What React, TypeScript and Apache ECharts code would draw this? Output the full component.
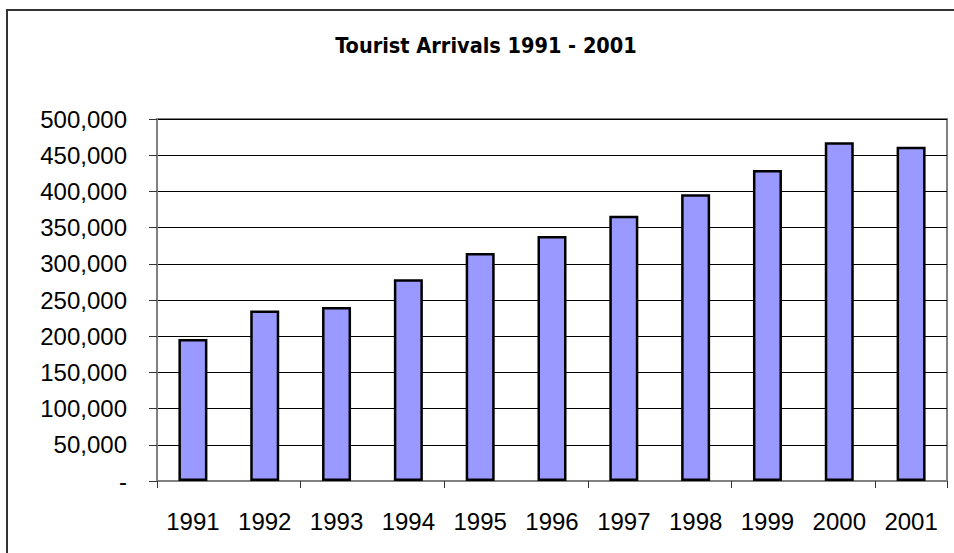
import React, { useEffect, useRef } from "react";
import * as echarts from "echarts";

const titleText = "Tourist Arrivals 1991 - 2001";
const years = ["1991", "1992", "1993", "1994", "1995", "1996", "1997", "1998", "1999", "2000", "2001"];
const arrivals = [196000, 235600, 240500, 278800, 314800, 338300, 366300, 395900, 429500, 467800, 461700];
const yMin = 0;
const yMax = 500000;
const yStep = 50000;

export default function App() {
  const ref = useRef<HTMLDivElement>(null);
  useEffect(() => {
    document.body.style.margin = "0";
    if (!ref.current) return;
    const chart = echarts.init(ref.current, undefined, { renderer: "svg" });
    chart.setOption({
      animation: false,
      backgroundColor: "#ffffff",
      title: {
        text: titleText,
        left: 481,
        top: 29,
        textAlign: "center",
        textStyle: {
          fontFamily: "'DejaVu Sans Condensed', sans-serif",
          fontSize: 21.5,
          fontWeight: "bold",
          color: "#000",
        },
      },
      graphic: [
        {
          type: "rect",
          shape: { x: 7, y: 10, width: 980, height: 580 },
          style: { fill: "none", stroke: "#333", lineWidth: 2 },
          silent: true,
        },
      ],
      grid: {
        left: 157,
        right: 7,
        top: 119,
        bottom: 72,
        show: true,
        borderColor: "#808080",
        borderWidth: 2,
        backgroundColor: "transparent",
      },
      xAxis: {
        type: "category",
        data: years,
        boundaryGap: true,
        axisLine: { show: true, lineStyle: { color: "#808080", width: 2 } },
        axisTick: { show: true, interval: 1, length: 7, lineStyle: { color: "#333", width: 1 } },
        axisLabel: {
          interval: 0,
          margin: 28,
          fontFamily: "'Liberation Sans', Arial, sans-serif",
          fontSize: 24,
          color: "#000",
        },
        splitLine: { show: false },
      },
      yAxis: {
        type: "value",
        min: yMin,
        max: yMax,
        interval: yStep,
        axisLine: { show: true, lineStyle: { color: "#808080", width: 2 } },
        axisTick: { show: true, inside: false, length: 8, lineStyle: { color: "#333", width: 1 } },
        axisLabel: {
          margin: 30,
          fontFamily: "'Liberation Sans', Arial, sans-serif",
          fontSize: 24,
          color: "#000",
          formatter: (v: number) => (v === 0 ? "-" : v.toLocaleString("en-US")),
        },
        splitLine: { show: true, lineStyle: { color: "#000", width: 1 } },
      },
      series: [
        {
          type: "bar",
          data: arrivals,
          barWidth: 29,
          itemStyle: { color: "#9999FF", borderColor: "#000", borderWidth: 2.5 },
        },
      ],
    });
    return () => chart.dispose();
  }, []);
  return <div ref={ref} style={{ width: 954, height: 553 }} />;
}
